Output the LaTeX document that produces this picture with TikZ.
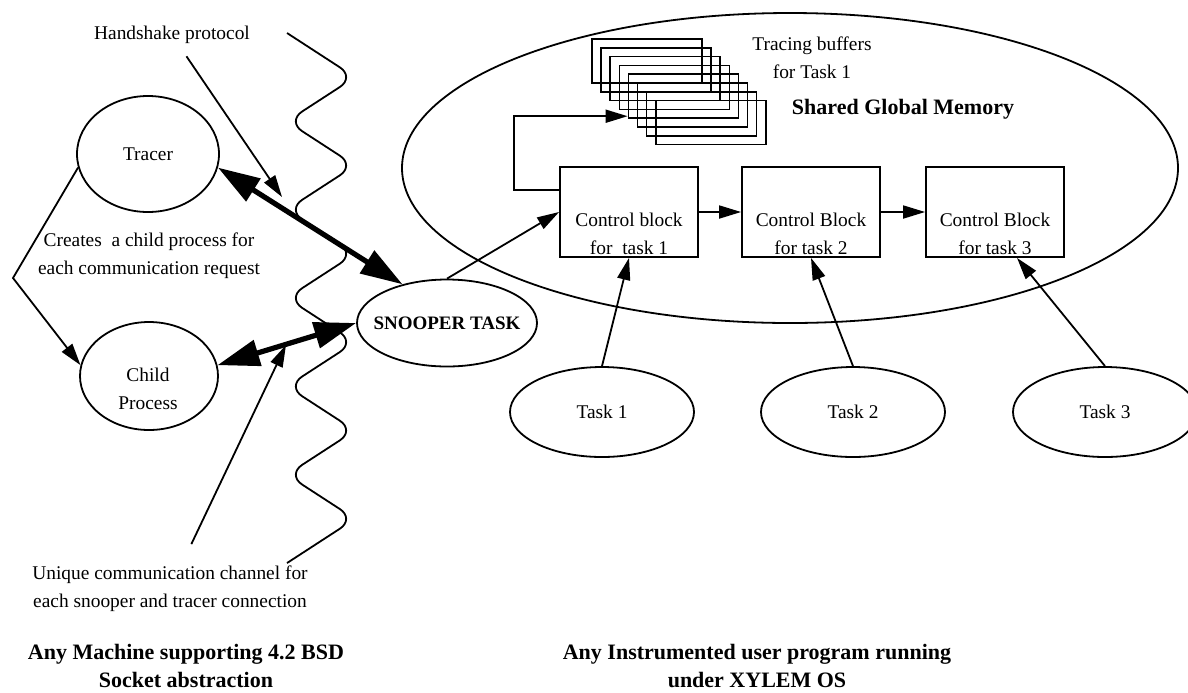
\documentclass[tikz,border=0pt]{standalone}
\usepackage{fontspec}
\setmainfont{Liberation Serif}
\usetikzlibrary{arrows.meta,positioning,calc,shapes.geometric}

\begin{document}
\begin{tikzpicture}[x=0.5pt, y=-0.5pt, line width=0.9pt,
  every node/.style={font=\fontsize{9.7}{14}\selectfont},
  proc/.style={draw, ellipse, inner sep=0pt},
  ctrl/.style={draw, minimum width=69pt, minimum height=45pt},
  bufbox/.style={draw, line width=0.8pt, minimum width=55pt, minimum height=22pt, inner sep=0pt},
  link/.style={-{Triangle[length=11pt,width=6.5pt]}},
  fatlink/.style={{Triangle[length=21pt,width=13pt]}-{Triangle[length=21pt,width=13pt]}, line width=2.6pt},
  heading/.style={align=center, font=\bfseries\fontsize{11}{14}\selectfont}]
\useasboundingbox (0,0) rectangle (1188,692);
% machine side: tracer, child and the socket boundary
\draw[rounded corners=9pt] (287,33) \foreach \k in {1,...,12} {-- ({287+68*mod(\k,2)},{33+44.17*\k})};
\node (hs) at (172,35) {Handshake protocol};
\node[proc, minimum width=71pt, minimum height=58pt] (tracer) at (148,154) {Tracer};
\node[align=center] (creates) at (149,256) {Creates\ \ a child process for\\each communication request};
\node[proc, minimum width=69pt, minimum height=54pt] (child) at (149,376) {};
\node[align=center] (childtxt) at (148,389) {Child\\Process};
\node[proc, minimum width=90pt, minimum height=43.5pt, font=\bfseries\fontsize{9.5}{12}\selectfont] (snooper) at (447,323) {\makebox[0pt]{SNOOPER TASK}};
\node[align=center] (uq) at (170,589) {Unique communication channel for\\each snooper and tracer connection};
\node[heading] (machine) at (186,666) {Any Machine supporting 4.2 BSD\\Socket abstraction};
\coordinate (hsend) at (282,197);
\coordinate (uqend) at (286,345);
\coordinate (bend) at (13,278);
\draw[link] (tracer.191) -- (bend) -- (child.171);
\draw[link, shorten <=3pt] (hs) -- (hsend);
\draw[link, shorten <=8pt] (uq) -- (uqend);
\draw[fatlink] (tracer.-11) -- (snooper.139);
\draw[fatlink] (child.9) -- (snooper.180);
% XYLEM side: shared memory, control blocks, tasks
\node[proc, minimum width=388pt, minimum height=155pt] (shm) at (790,168) {};
\node[align=center] (tracing) at (812,58) {Tracing buffers\\for Task 1};
\node[heading] (shmtxt) at (903,109) {Shared Global Memory};
\foreach \k in {0,...,7} \node[bufbox] (buf\k) at ({647+9.1*\k},{61+8.8*\k}) {};
\node[ctrl] (cb1) at (629,212) {};
\node[ctrl] (cb2) at (811,212) {};
\node[ctrl] (cb3) at (995,212) {};
\node[align=center] (cb1txt) at (629,234) {Control block\\for\ \ task 1};
\node[align=center] (cb2txt) at (811,234) {Control Block\\for task 2};
\node[align=center] (cb3txt) at (995,234) {Control Block\\for task 3};
\node[proc, minimum width=92pt, minimum height=45pt] (task1) at (602,412) {Task 1};
\node[proc, minimum width=92pt, minimum height=45pt] (task2) at (853,412) {Task 2};
\node[proc, minimum width=92pt, minimum height=45pt] (task3) at (1105,412) {Task 3};
\node[heading] (xylem) at (757,666) {Any Instrumented user program running\\under XYLEM OS};
\draw[link] (snooper.north) -- (cb1.west);
\draw[link] (cb1.east) -- (cb2.west);
\draw[link] (cb2.east) -- (cb3.west);
\draw[link] ([yshift=11pt]cb1.west) -- ++(-45,0) |- ([yshift=-10pt]buf4.west);
\draw[link] (task1.north) -- (cb1.south);
\draw[link] (task2.north) -- (cb2.south);
\draw[link] (task3.north) -- ([xshift=11pt]cb3.south);
\end{tikzpicture}
\end{document}
